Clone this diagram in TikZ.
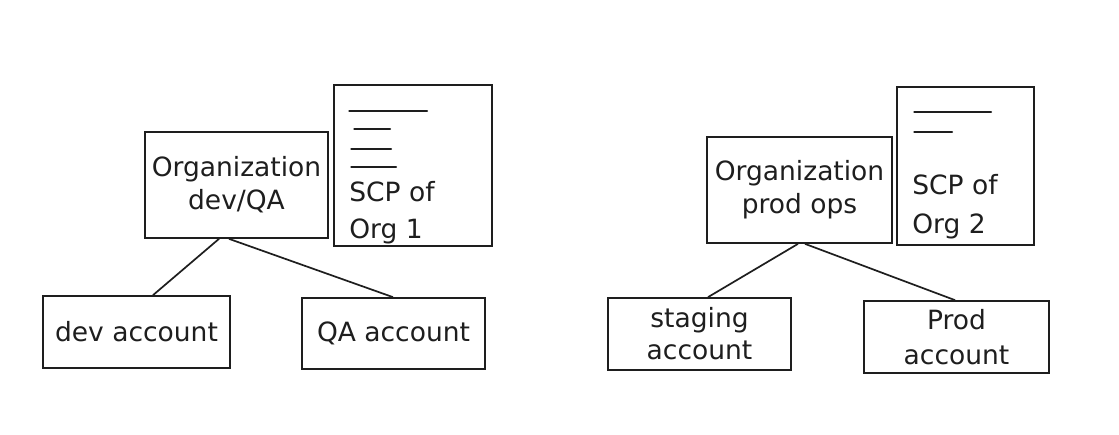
\documentclass[tikz,border=0pt]{standalone}
\usepackage{fontspec}
\setmainfont{DejaVu Sans}
\definecolor{ink}{HTML}{1E1E1E}
\tikzset{
  box/.style={draw=ink, line width=1.7pt, inner sep=0pt, align=center, text=ink,
    font=\fontsize{26.5}{33}\selectfont},
  scptext/.style={anchor=west, align=left, inner sep=0pt, text=ink},
  mark line/.style={draw=ink, line width=1.7pt, line cap=round},
  link/.style={draw=ink, line width=1.7pt}
}
\begin{document}
\begin{tikzpicture}[x=1pt,y=-1pt]
\fill[white] (0,0) rectangle (1119,434);
\useasboundingbox (0,0) rectangle (1119,434);

% left group
\node[box, minimum width=183pt, minimum height=106pt] (orgA) at (236.5,185) {Organization\\dev/QA};
\node[box, minimum width=158pt, minimum height=161pt] (scpA) at (413,165.5) {};
\draw[mark line] ([shift={(16,27)}]scpA.north west) -- ++(78,0);
\draw[mark line] ([shift={(21,45)}]scpA.north west) -- ++(36,0);
\draw[mark line] ([shift={(18,65)}]scpA.north west) -- ++(40,0);
\draw[mark line] ([shift={(18,83)}]scpA.north west) -- ++(45,0);
\node[scptext, font=\fontsize{26.5}{37}\selectfont] (scpAt) at ([shift={(16,128.5)}]scpA.north west) {SCP of\\Org 1};
\node[box, minimum width=187pt, minimum height=72pt] (dev) at (136.5,332) {dev account};
\node[box, minimum width=183pt, minimum height=71pt] (qa) at (393.5,333.5) {QA account};
\draw[link] ([xshift=-17.5pt]orgA.south) -- ([xshift=16.5pt]dev.north);
\draw[link] ([xshift=-7.5pt]orgA.south) -- ([xshift=-0.5pt]qa.north);

% right group
\node[box, minimum width=185pt, minimum height=106pt] (orgB) at (799.5,190) {Organization\\prod ops};
\node[box, minimum width=137pt, minimum height=158pt] (scpB) at (965.5,166) {};
\draw[mark line] ([shift={(18,26)}]scpB.north west) -- ++(77,0);
\draw[mark line] ([shift={(18,46)}]scpB.north west) -- ++(38,0);
\node[scptext, font=\fontsize{26.5}{39}\selectfont] (scpBt) at ([shift={(16,120.5)}]scpB.north west) {SCP of\\Org 2};
\node[box, minimum width=183pt, minimum height=72pt, font=\fontsize{26.5}{32}\selectfont] (stg) at (699.5,334) {staging\\account};
\node[box, minimum width=185pt, minimum height=72pt, font=\fontsize{26.5}{35}\selectfont] (prod) at (956.5,337) {Prod\\account};
\draw[link] ([xshift=-1.5pt]orgB.south) -- ([xshift=8.5pt]stg.north);
\draw[link] ([xshift=5.5pt]orgB.south) -- ([xshift=-1.5pt]prod.north);
\end{tikzpicture}
\end{document}
